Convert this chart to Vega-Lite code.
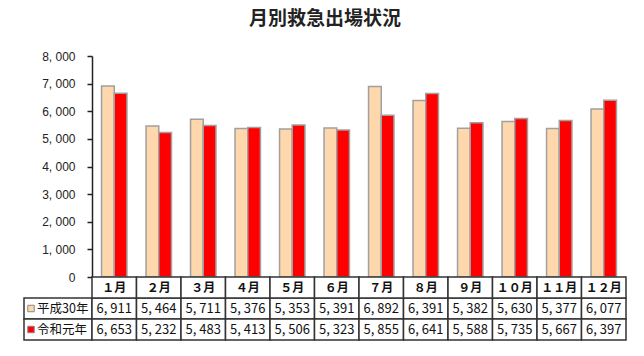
{
  "$schema": "https://vega.github.io/schema/vega-lite/v6.json",
  "padding": {"left": 23, "top": 10, "right": 18, "bottom": 12},
  "title": {"text": "月別救急出場状況", "fontSize": 19, "font": "Noto Sans CJK JP", "fontWeight": "bold", "color": "#222", "offset": 21, "anchor": "middle"},
  "config": {
    "view": {"stroke": null},
    "font": "Noto Sans CJK JP"
  },
  "datasets": {
    "d": [
      {"month": "１月", "series": "平成30年", "value": 6911},
      {"month": "２月", "series": "平成30年", "value": 5464},
      {"month": "３月", "series": "平成30年", "value": 5711},
      {"month": "４月", "series": "平成30年", "value": 5376},
      {"month": "５月", "series": "平成30年", "value": 5353},
      {"month": "６月", "series": "平成30年", "value": 5391},
      {"month": "７月", "series": "平成30年", "value": 6892},
      {"month": "８月", "series": "平成30年", "value": 6391},
      {"month": "９月", "series": "平成30年", "value": 5382},
      {"month": "１０月", "series": "平成30年", "value": 5630},
      {"month": "１１月", "series": "平成30年", "value": 5377},
      {"month": "１２月", "series": "平成30年", "value": 6077},
      {"month": "１月", "series": "令和元年", "value": 6653},
      {"month": "２月", "series": "令和元年", "value": 5232},
      {"month": "３月", "series": "令和元年", "value": 5483},
      {"month": "４月", "series": "令和元年", "value": 5413},
      {"month": "５月", "series": "令和元年", "value": 5506},
      {"month": "６月", "series": "令和元年", "value": 5323},
      {"month": "７月", "series": "令和元年", "value": 5855},
      {"month": "８月", "series": "令和元年", "value": 6641},
      {"month": "９月", "series": "令和元年", "value": 5588},
      {"month": "１０月", "series": "令和元年", "value": 5735},
      {"month": "１１月", "series": "令和元年", "value": 5667},
      {"month": "１２月", "series": "令和元年", "value": 6397}
    ]
  },
  "columns": 2,
  "spacing": 0,
  "bounds": "flush",
  "concat": [
    {
      "width": 68,
      "height": 221,
      "data": {"values": [{}]},
      "mark": {"type": "text", "text": ""},
      "encoding": {}
    },
    {
      "width": 534,
      "height": 221,
      "data": {"name": "d"},
      "mark": {"type": "bar", "stroke": "#A0A0A0", "strokeWidth": 1.5},
      "encoding": {
        "x": {"field": "month", "type": "nominal", "sort": ["１月","２月","３月","４月","５月","６月","７月","８月","９月","１０月","１１月","１２月"], "scale": {"paddingInner": 0, "paddingOuter": 0}, "axis": null},
        "xOffset": {"field": "series", "type": "nominal", "sort": ["平成30年", "令和元年"], "scale": {"paddingInner": 0, "paddingOuter": 0.75}},
        "y": {"field": "value", "type": "quantitative", "scale": {"domain": [0, 8000]},
          "axis": {"title": null, "values": [0,1000,2000,3000,4000,5000,6000,7000,8000], "grid": false, "domainColor": "#222", "domainWidth": 1.5, "tickColor": "#222", "tickWidth": 1.5, "tickSize": 5, "labelPadding": 12, "labelFontSize": 12, "labelColor": "#222", "labelFont": "Liberation Sans",
            "labelExpr": "replace(format(datum.value, ','), ',', ', ')"}},
        "color": {"field": "series", "type": "nominal", "scale": {"domain": ["平成30年", "令和元年"], "range": ["#FFD7AD", "#FF0000"]}, "legend": null}
      }
    },
    {
      "width": 68,
      "height": 63,
      "data": {"name": "d"},
      "transform": [{"filter": "datum.month == '１月'"}],
      "encoding": {
        "y": {"field": "series", "type": "nominal", "scale": {"domain": ["月", "平成30年", "令和元年"], "paddingInner": 0, "paddingOuter": 0}, "axis": null}
      },
      "layer": [
        {"mark": {"type": "rect", "fill": "white", "stroke": "#333", "strokeWidth": 1.5}},
        {"mark": {"type": "point", "shape": "square", "filled": true, "size": 42, "xOffset": -27, "stroke": "#888", "strokeWidth": 1, "opacity": 1},
         "encoding": {"color": {"field": "series", "type": "nominal", "scale": {"domain": ["平成30年", "令和元年"], "range": ["#FFD7AD", "#FF0000"]}, "legend": null}}},
        {"mark": {"type": "text", "align": "left", "dx": -21, "fontSize": 12.5, "color": "#111"},
         "encoding": {"text": {"field": "series"}}}
      ]
    },
    {
      "width": 534,
      "height": 63,
      "data": {"name": "d"},
      "encoding": {
        "x": {"field": "month", "type": "nominal", "sort": ["１月","２月","３月","４月","５月","６月","７月","８月","９月","１０月","１１月","１２月"], "scale": {"paddingInner": 0, "paddingOuter": 0}, "axis": null}
      },
      "layer": [
        {"mark": {"type": "rect", "fill": "white", "stroke": "#333", "strokeWidth": 1.5},
         "encoding": {"y": {"field": "series", "type": "nominal", "scale": {"domain": ["月", "平成30年", "令和元年"], "paddingInner": 0, "paddingOuter": 0}, "axis": null}}},
        {"transform": [{"filter": "datum.series == '平成30年'"}],
         "mark": {"type": "rect", "fill": "white", "stroke": "#333", "strokeWidth": 1.5},
         "encoding": {"y": {"datum": "月", "type": "nominal"}}},
        {"transform": [{"filter": "datum.series == '平成30年'"}],
         "mark": {"type": "text", "fontSize": 12, "fontWeight": "bold", "color": "#111"},
         "encoding": {"y": {"datum": "月", "type": "nominal"}, "text": {"field": "month"}}},
        {"mark": {"type": "text", "fontSize": 13, "color": "#111", "font": "Noto Sans CJK JP", "text": {"expr": "replace(format(datum.value, ','), ',', ', ')"}},
         "encoding": {"y": {"field": "series", "type": "nominal"}}}
      ]
    }
  ]
}
